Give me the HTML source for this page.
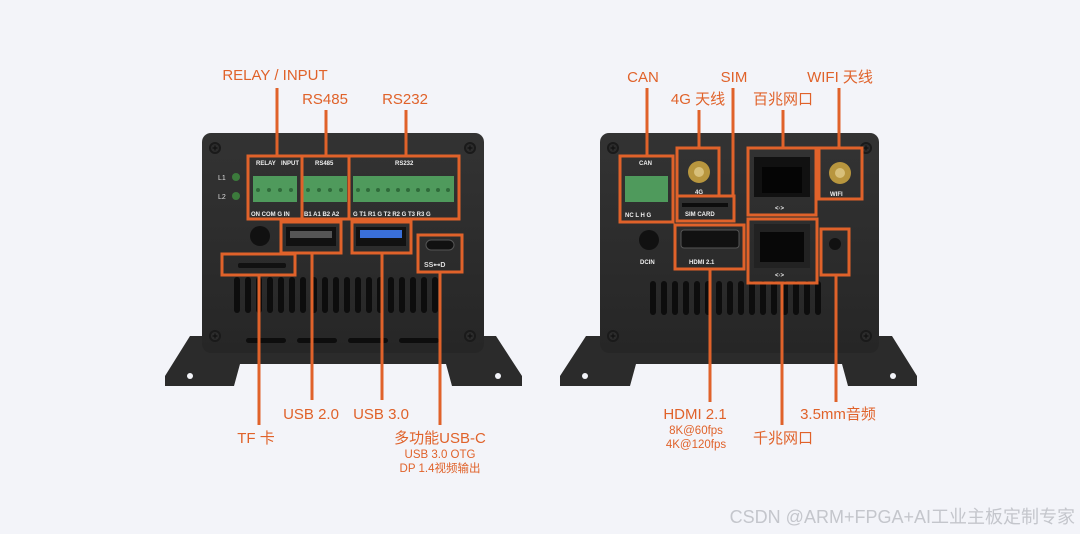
<!DOCTYPE html>
<html><head><meta charset="utf-8"><style>
html,body{margin:0;padding:0;background:#f3f4f9;}
svg{display:block}
text{font-family:"Liberation Sans","Noto Sans CJK SC",sans-serif;}
</style></head><body>
<svg width="1080" height="534" viewBox="0 0 1080 534" xmlns="http://www.w3.org/2000/svg">
<defs>
<linearGradient id="bd" x1="0" y1="0" x2="0" y2="1"><stop offset="0" stop-color="#333"/><stop offset="1" stop-color="#262626"/></linearGradient>
<g id="screw"><circle r="6" fill="#1a1a1a"/><circle r="4" fill="#2c2c2c"/><path d="M-2.5 0H2.5M0 -2.5V2.5" stroke="#111" stroke-width="1.2"/></g>
</defs>
<rect width="1080" height="534" fill="#f3f4f9"/>

<!-- LEFT DEVICE -->
<polygon points="190,336 496,336 522,376 522,386 452,386 446,364 240,364 234,386 165,386 165,376" fill="#2b2b2b"/>
<circle cx="190" cy="376" r="3" fill="#f3f4f9"/><circle cx="498" cy="376" r="3" fill="#f3f4f9"/>
<rect x="202" y="133" width="282" height="220" rx="9" fill="url(#bd)"/>
<use href="#screw" x="215" y="148"/><use href="#screw" x="470" y="148"/>
<use href="#screw" x="215" y="336"/><use href="#screw" x="470" y="336"/>
<g fill="#0d0d0d">
<rect x="234" y="277" width="6" height="36" rx="3"/><rect x="245" y="277" width="6" height="36" rx="3"/><rect x="256" y="277" width="6" height="36" rx="3"/><rect x="267" y="277" width="6" height="36" rx="3"/><rect x="278" y="277" width="6" height="36" rx="3"/><rect x="289" y="277" width="6" height="36" rx="3"/><rect x="300" y="277" width="6" height="36" rx="3"/><rect x="311" y="277" width="6" height="36" rx="3"/><rect x="322" y="277" width="6" height="36" rx="3"/><rect x="333" y="277" width="6" height="36" rx="3"/><rect x="344" y="277" width="6" height="36" rx="3"/><rect x="355" y="277" width="6" height="36" rx="3"/><rect x="366" y="277" width="6" height="36" rx="3"/><rect x="377" y="277" width="6" height="36" rx="3"/><rect x="388" y="277" width="6" height="36" rx="3"/><rect x="399" y="277" width="6" height="36" rx="3"/><rect x="410" y="277" width="6" height="36" rx="3"/><rect x="421" y="277" width="6" height="36" rx="3"/><rect x="432" y="277" width="6" height="36" rx="3"/>
<rect x="246" y="338" width="40" height="5" rx="2.5"/><rect x="297" y="338" width="40" height="5" rx="2.5"/><rect x="348" y="338" width="40" height="5" rx="2.5"/><rect x="399" y="338" width="40" height="5" rx="2.5"/>
</g>
<circle cx="236" cy="177" r="4" fill="#3c7a3c"/><circle cx="236" cy="196" r="4" fill="#3c7a3c"/>
<text x="218" y="180" font-size="7" fill="#ddd">L1</text><text x="218" y="199" font-size="7" fill="#ddd">L2</text>
<rect x="253" y="176" width="44" height="26" fill="#4f9a5c"/>
<rect x="303" y="176" width="44" height="26" fill="#4f9a5c"/>
<rect x="353" y="176" width="101" height="26" fill="#4f9a5c"/>
<g fill="#2f6b3a">
<circle cx="258" cy="190" r="2"/><circle cx="269" cy="190" r="2"/><circle cx="280" cy="190" r="2"/><circle cx="291" cy="190" r="2"/>
<circle cx="308" cy="190" r="2"/><circle cx="319" cy="190" r="2"/><circle cx="330" cy="190" r="2"/><circle cx="341" cy="190" r="2"/>
<circle cx="358" cy="190" r="2"/><circle cx="368" cy="190" r="2"/><circle cx="378" cy="190" r="2"/><circle cx="388" cy="190" r="2"/><circle cx="398" cy="190" r="2"/><circle cx="408" cy="190" r="2"/><circle cx="418" cy="190" r="2"/><circle cx="428" cy="190" r="2"/><circle cx="438" cy="190" r="2"/><circle cx="448" cy="190" r="2"/>
</g>
<g fill="#eee" font-size="6" font-weight="bold">
<text x="256" y="165">RELAY</text><text x="281" y="165">INPUT</text><text x="315" y="165">RS485</text><text x="395" y="165">RS232</text>
<text x="251" y="216">ON COM G  IN</text><text x="304" y="216">B1 A1 B2 A2</text><text x="353" y="216">G T1 R1 G T2 R2 G T3 R3 G</text>
</g>
<circle cx="260" cy="236" r="10" fill="#111"/>
<rect x="286" y="227" width="50" height="19" fill="#111"/><rect x="290" y="231" width="42" height="7" fill="#555"/>
<rect x="356" y="227" width="50" height="19" fill="#111"/><rect x="360" y="230" width="42" height="8" fill="#3a6fd8"/>
<rect x="426" y="240" width="28" height="10" rx="5" fill="#111" stroke="#555"/>
<rect x="238" y="263" width="48" height="5" rx="2" fill="#111"/>
<text x="424" y="267" font-size="7" fill="#ddd" font-weight="bold">SS⊷D</text>
<g fill="none" stroke="#e0622a" stroke-width="3">
<rect x="248" y="156" width="54" height="63"/><rect x="302" y="156" width="47" height="63"/><rect x="349" y="156" width="110" height="63"/>
<rect x="281" y="222" width="60" height="31"/><rect x="352" y="222" width="59" height="31"/>
<rect x="418" y="235" width="44" height="37"/><rect x="222" y="254" width="73" height="21"/>
<path d="M277 156V88M326 156V110M406 156V110"/>
<path d="M259 275V425M312 253V400M382 253V400M440 272V425"/>
</g>

<!-- RIGHT DEVICE -->
<polygon points="586,336 892,336 917,376 917,386 848,386 842,364 636,364 630,386 560,386 560,376" fill="#2b2b2b"/>
<circle cx="585" cy="376" r="3" fill="#f3f4f9"/><circle cx="893" cy="376" r="3" fill="#f3f4f9"/>
<rect x="600" y="133" width="279" height="220" rx="9" fill="url(#bd)"/>
<use href="#screw" x="613" y="148"/><use href="#screw" x="866" y="148"/>
<use href="#screw" x="613" y="336"/><use href="#screw" x="866" y="336"/>
<g fill="#0d0d0d">
<rect x="650" y="281" width="6" height="34" rx="3"/><rect x="661" y="281" width="6" height="34" rx="3"/><rect x="672" y="281" width="6" height="34" rx="3"/><rect x="683" y="281" width="6" height="34" rx="3"/><rect x="694" y="281" width="6" height="34" rx="3"/><rect x="705" y="281" width="6" height="34" rx="3"/><rect x="716" y="281" width="6" height="34" rx="3"/><rect x="727" y="281" width="6" height="34" rx="3"/><rect x="738" y="281" width="6" height="34" rx="3"/><rect x="749" y="281" width="6" height="34" rx="3"/><rect x="760" y="281" width="6" height="34" rx="3"/><rect x="771" y="281" width="6" height="34" rx="3"/><rect x="782" y="281" width="6" height="34" rx="3"/><rect x="793" y="281" width="6" height="34" rx="3"/><rect x="804" y="281" width="6" height="34" rx="3"/><rect x="815" y="281" width="6" height="34" rx="3"/>
</g>
<rect x="625" y="176" width="43" height="26" fill="#4f9a5c"/>
<circle cx="699" cy="172" r="11" fill="#b8963e"/><circle cx="699" cy="172" r="5" fill="#d8c07a"/>
<circle cx="840" cy="173" r="11" fill="#b8963e"/><circle cx="840" cy="173" r="5" fill="#d8c07a"/>
<rect x="682" y="203" width="46" height="4" fill="#0d0d0d"/>
<rect x="754" y="157" width="56" height="40" fill="#111"/><rect x="762" y="167" width="40" height="26" fill="#050505"/>
<rect x="754" y="224" width="56" height="44" fill="#222"/><rect x="760" y="232" width="44" height="30" fill="#080808"/>
<rect x="681" y="230" width="58" height="18" rx="3" fill="#111" stroke="#555"/>
<circle cx="649" cy="240" r="10" fill="#111"/>
<circle cx="835" cy="244" r="6" fill="#111"/>
<g fill="#eee" font-size="6" font-weight="bold">
<text x="639" y="165">CAN</text><text x="625" y="217">NC  L  H  G</text><text x="695" y="194">4G</text><text x="685" y="216">SIM CARD</text>
<text x="830" y="196">WIFI</text><text x="689" y="264">HDMI 2.1</text><text x="640" y="264">DCIN</text>
<text x="775" y="210">&lt;·&gt;</text><text x="775" y="277">&lt;·&gt;</text>
</g>
<g fill="none" stroke="#e0622a" stroke-width="3">
<rect x="620" y="156" width="53" height="66"/><rect x="677" y="148" width="42" height="48"/><rect x="677" y="196" width="57" height="25"/>
<rect x="748" y="148" width="68" height="67"/><rect x="819" y="148" width="43" height="51"/>
<rect x="675" y="225" width="69" height="44"/><rect x="748" y="219" width="69" height="64"/><rect x="821" y="229" width="28" height="46"/>
<path d="M647 156V88M699 148V110M733 196V88M783 148V110M839 148V88"/>
<path d="M710 269V402M782 283V425M836 275V402"/>
</g>

<g fill="#e0622a" font-size="15" text-anchor="middle">
<text x="275" y="80">RELAY / INPUT</text><text x="325" y="104">RS485</text><text x="405" y="104">RS232</text>
<text x="256" y="443">TF 卡</text><text x="311" y="419">USB 2.0</text><text x="381" y="419">USB 3.0</text>
<text x="440" y="443">多功能USB-C</text>
<text x="643" y="82">CAN</text><text x="734" y="82">SIM</text><text x="840" y="82">WIFI 天线</text>
<text x="698" y="104">4G 天线</text><text x="783" y="104">百兆网口</text>
<text x="695" y="419">HDMI 2.1</text><text x="783" y="443">千兆网口</text><text x="838" y="419">3.5mm音频</text>
</g>
<g fill="#e0622a" font-size="11.5" text-anchor="middle">
<text x="440" y="458">USB 3.0 OTG</text><text x="440" y="472">DP 1.4视频输出</text>
<text x="696" y="434">8K@60fps</text><text x="696" y="448">4K@120fps</text>
</g>
<text x="1075" y="523" font-size="18" fill="#c4c6cc" text-anchor="end">CSDN @ARM+FPGA+AI工业主板定制专家</text>
</svg>
</body></html>
